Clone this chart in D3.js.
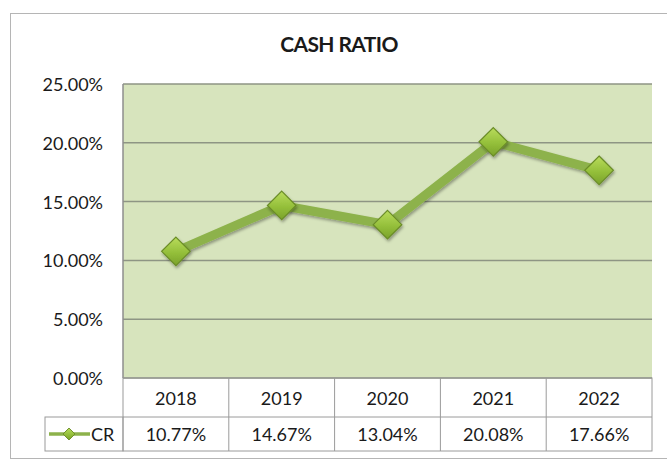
<!DOCTYPE html>
<html>
<head>
<meta charset="utf-8">
<script src="https://cdn.jsdelivr.net/npm/d3@7"></script>
<style>
  body { margin: 0; background: #fff; }
  text { font-family: Lato, "Open Sans", sans-serif; fill: #1a1a1a; }
</style>
</head>
<body>
<div id="viz"></div>
<script>
const years = ['2018', '2019', '2020', '2021', '2022'];
const crValues = [10.77, 14.67, 13.04, 20.08, 17.66];
const yTicks = [0, 5, 10, 15, 20, 25];
const seriesName = 'CR';
const title = 'CASH RATIO';

const width = 667, height = 462;
const plot = { left: 123, right: 652, top: 84, bottom: 378 };
const headH = 39, rowH = 34;

const svg = d3.select('#viz')
    .append('svg')
    .attr('width', width)
    .attr('height', height);

const defs = svg.append('defs');
const grad = defs.append('linearGradient')
    .attr('id', 'mk').attr('x1', 0).attr('y1', 0).attr('x2', 0).attr('y2', 1);
grad.append('stop').attr('offset', '0%').attr('stop-color', '#b9dc5c');
grad.append('stop').attr('offset', '55%').attr('stop-color', '#94bf3a');
grad.append('stop').attr('offset', '100%').attr('stop-color', '#7aa22a');
const sh = defs.append('filter').attr('id', 'sh')
    .attr('x', '-50%').attr('y', '-50%').attr('width', '200%').attr('height', '200%');
sh.append('feDropShadow').attr('dx', 1).attr('dy', 2).attr('stdDeviation', 1.5)
    .attr('flood-color', '#000').attr('flood-opacity', 0.35);

// outer frame
svg.append('rect')
    .attr('x', 10.5).attr('y', 13.5)
    .attr('width', 670).attr('height', 445)
    .attr('fill', 'none').attr('stroke', '#b5b5b5');

svg.append('text')
    .attr('x', 339).attr('y', 52)
    .attr('text-anchor', 'middle')
    .style('font-weight', 'bold').style('font-size', '21px')
    .style('letter-spacing', '-0.6px')
    .text(title);

let xScale = d3.scaleBand()
    .domain(years)
    .range([plot.left, plot.right]);

let yScale = d3.scaleLinear()
    .domain([0, 25])
    .range([plot.bottom, plot.top]);

svg.append('rect')
    .attr('x', plot.left).attr('y', plot.top)
    .attr('width', plot.right - plot.left).attr('height', plot.bottom - plot.top)
    .attr('fill', '#d7e4bd');

svg.selectAll('line.grid').data(yTicks)
    .enter()
    .append('line')
    .attr('x1', plot.left).attr('x2', plot.right)
    .attr('y1', d => yScale(d)).attr('y2', d => yScale(d))
    .attr('stroke', '#8e9584').attr('stroke-width', 1.5);

svg.append('line')
    .attr('x1', plot.left).attr('x2', plot.left)
    .attr('y1', plot.top).attr('y2', plot.bottom)
    .attr('stroke', '#8e8e8e').attr('stroke-width', 1.5);

svg.selectAll('text.ytick').data(yTicks)
    .enter()
    .append('text')
    .attr('x', 103)
    .attr('y', d => yScale(d) + 7)
    .attr('text-anchor', 'end')
    .style('font-size', '18px')
    .text(d => d.toFixed(2) + '%');

// data table
const tbl = svg.append('g');
const tblStroke = '#9a9a9a';
const rowTop = plot.bottom + headH;
tbl.append('rect')
    .attr('x', plot.left).attr('y', plot.bottom)
    .attr('width', plot.right - plot.left).attr('height', headH + rowH)
    .attr('fill', 'none').attr('stroke', tblStroke);
tbl.append('rect')
    .attr('x', 45).attr('y', rowTop)
    .attr('width', plot.left - 45).attr('height', rowH)
    .attr('fill', 'none').attr('stroke', tblStroke);
tbl.append('line')
    .attr('x1', plot.left).attr('x2', plot.right)
    .attr('y1', rowTop).attr('y2', rowTop)
    .attr('stroke', tblStroke);
tbl.selectAll('line.col').data(years.slice(1))
    .enter()
    .append('line')
    .attr('x1', d => xScale(d)).attr('x2', d => xScale(d))
    .attr('y1', plot.bottom).attr('y2', rowTop + rowH)
    .attr('stroke', tblStroke);
tbl.selectAll('text.yr').data(years)
    .enter()
    .append('text')
    .attr('x', d => xScale(d) + xScale.bandwidth() / 2)
    .attr('y', plot.bottom + 27)
    .attr('text-anchor', 'middle')
    .style('font-size', '18px')
    .text(d => d);
tbl.selectAll('text.val').data(crValues)
    .enter()
    .append('text')
    .attr('x', (d, i) => xScale(years[i]) + xScale.bandwidth() / 2)
    .attr('y', rowTop + 24)
    .attr('text-anchor', 'middle')
    .style('font-size', '18px')
    .text(d => d.toFixed(2) + '%');

// legend key
const ly = rowTop + rowH / 2;
tbl.append('line')
    .attr('x1', 49).attr('x2', 90).attr('y1', ly).attr('y2', ly)
    .attr('stroke', '#8db24b').attr('stroke-width', 3.5);
tbl.append('path')
    .attr('d', d3.symbol(d3.symbolDiamond2, 90)())
    .attr('transform', `translate(69,${ly})`)
    .attr('fill', 'url(#mk)').attr('stroke', '#6d8f2a');
tbl.append('text')
    .attr('x', 91).attr('y', ly + 7)
    .style('font-size', '18px')
    .text(seriesName);

// series
const line = d3.line()
    .x((d, i) => xScale(years[i]) + xScale.bandwidth() / 2)
    .y(d => yScale(d));

svg.append('path')
    .datum(crValues)
    .attr('d', line)
    .attr('fill', 'none')
    .attr('stroke', '#8db24b')
    .attr('stroke-width', 9)
    .attr('stroke-linejoin', 'miter')
    .attr('filter', 'url(#sh)');

svg.selectAll('path.mk').data(crValues)
    .enter()
    .append('path')
    .attr('d', d3.symbol(d3.symbolDiamond2, 520)())
    .attr('transform', (d, i) => `translate(${xScale(years[i]) + xScale.bandwidth() / 2},${yScale(d)})`)
    .attr('fill', 'url(#mk)')
    .attr('stroke', '#6a8c28')
    .attr('stroke-width', 1.2)
    .attr('filter', 'url(#sh)');
</script>
</body>
</html>
